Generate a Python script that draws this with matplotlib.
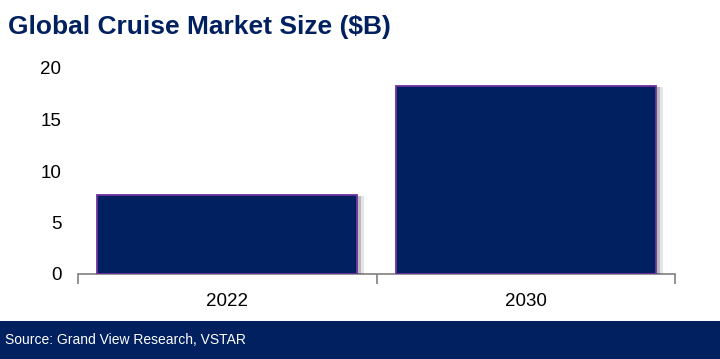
import matplotlib.pyplot as plt
import matplotlib.patheffects as pe
from matplotlib.patches import Rectangle

years = ["2022", "2030"]
market_size = [7.7, 18.3]
y_ticks = [0, 5, 10, 15, 20]

navy = "#002060"
purple = "#7030A0"

plt.rcParams['font.family'] = ['Liberation Sans', 'DejaVu Sans']

fig = plt.figure(figsize=(7.2, 3.59), dpi=100)
ax = fig.add_axes([78 / 720, 1 - 274 / 359, 597 / 720, (274 - 68) / 359])

x = range(len(years))
bars = ax.bar(x, market_size, width=0.87, color=navy, edgecolor=purple,
              linewidth=1.3, zorder=3)
# soft shadow on the right side of each bar
for b in bars:
    b.set_path_effects([
        pe.SimplePatchShadow(offset=(5, -1), shadow_rgbFace='#000000', alpha=0.10),
        pe.SimplePatchShadow(offset=(3, -1), shadow_rgbFace='#000000', alpha=0.18),
        pe.Normal(),
    ])

ax.set_xlim(-0.5, len(years) - 0.5)
ax.set_ylim(0, 20)
ax.set_yticks(y_ticks)
ax.set_yticklabels([str(t) for t in y_ticks], fontsize=13.5, color='black')
ax.tick_params(axis='y', length=0, pad=12)

# category separators as ticks on the x axis
ax.set_xticks([-0.5, 0.5, 1.5], minor=False)
ax.set_xticklabels([])
ax.tick_params(axis='x', which='major', length=7, width=1.2, color='#808080', direction='out')
ax.set_xticks(list(x), minor=True)
ax.set_xticklabels(years, minor=True, fontsize=13.5)
ax.tick_params(axis='x', which='minor', length=0, pad=14)

for side in ['left', 'right', 'top']:
    ax.spines[side].set_visible(False)
ax.spines['bottom'].set_color('#808080')
ax.spines['bottom'].set_linewidth(1.2)

fig.text(8 / 720, 1 - 27 / 359, "Global Cruise Market Size ($B)", fontsize=19,
         fontweight='bold', color=navy, va='center', ha='left')

# footer band
fig.patches.append(Rectangle((0, 0), 1, 38 / 359, transform=fig.transFigure,
                             facecolor=navy, edgecolor='none', zorder=0))
fig.text(5 / 720, 19 / 359, "Source: Grand View Research, VSTAR", fontsize=10,
         color='white', va='center', ha='left')

fig.savefig("out.png", dpi=100)
